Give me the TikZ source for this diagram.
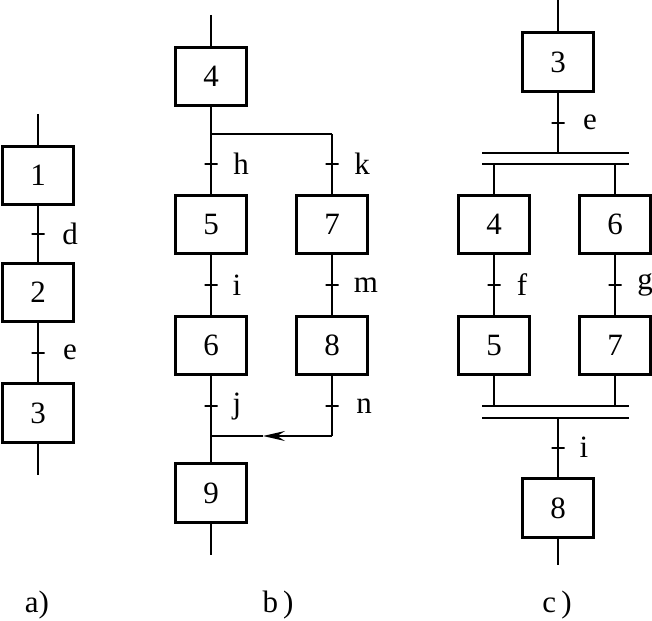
\documentclass[tikz,border=0pt]{standalone}
\usepackage{fontspec}
\setmainfont{Liberation Serif}
\usetikzlibrary{arrows.meta}
\begin{document}
\begin{tikzpicture}[x=1pt,y=-1pt,
  stepbox/.style={draw,line width=2.8pt,minimum width=71pt,minimum height=58.5pt,inner sep=0pt,font=\fontsize{31}{34}\selectfont},
  conn/.style={line width=2pt},
  tickmark/.style={draw,line width=2pt,minimum width=13pt,minimum height=0pt,inner sep=0pt,outer sep=0pt},
  cond/.style={font=\fontsize{31}{34}\selectfont,anchor=center},
  caption/.style={font=\fontsize{31}{34}\selectfont}]
\useasboundingbox (0,0) rectangle (652,620);
% ---------- a) ----------
\node[stepbox] (a1) at (38,175.5) {1};
\node[stepbox] (a2) at (38,292.5) {2};
\node[stepbox] (a3) at (38,413) {3};
\coordinate (atop) at (38,114);
\coordinate (abot) at (38,475);
\draw[conn] (atop) -- (a1);
\draw[conn] (a1) -- (a2) node[midway,tickmark] (ta1) {} node[midway,cond,xshift=32pt] (la1) {d};
\draw[conn] (a2) -- (a3) node[midway,tickmark] (ta2) {} node[midway,cond,xshift=32pt] (la2) {e};
\draw[conn] (a3) -- (abot);
\node[caption] (capa) at (37,605) {a)};
% ---------- b) ----------
\node[stepbox] (b4) at (211,76.5) {4};
\node[stepbox] (b5) at (211,224.5) {5};
\node[stepbox] (b6) at (211,345.5) {6};
\node[stepbox] (b9) at (211,493) {9};
\node[stepbox] (b7) at (332,224.5) {7};
\node[stepbox] (b8) at (332,345.5) {8};
\coordinate (btop) at (211,15);
\coordinate (bbot) at (211,555);
\coordinate (bsl) at (211,134);
\coordinate (bsr) at (332,134);
\coordinate (bml) at (211,436);
\coordinate (bmr) at (332,436);
\coordinate (barr) at (263,436);
\draw[conn] (btop) -- (b4);
\draw[conn] (b4) -- (bsl);
\draw[conn] (bsl) -- (bsr);
\draw[conn] (bsl) -- (b5) node[midway,tickmark] (tb1) {} node[midway,cond,xshift=30pt] (lb1) {h};
\draw[conn] (bsr) -- (b7) node[midway,tickmark] (tb2) {} node[midway,cond,xshift=30pt] (lb2) {k};
\draw[conn] (b5) -- (b6) node[midway,tickmark] (tb3) {} node[midway,cond,xshift=26pt] (lb3) {i};
\draw[conn] (b7) -- (b8) node[midway,tickmark] (tb4) {} node[midway,cond,xshift=34pt] (lb4) {m};
\draw[conn] (b6) -- (bml) node[midway,tickmark] (tb5) {} node[midway,cond,xshift=26pt] (lb5) {j};
\draw[conn] (b8) -- (bmr) node[midway,tickmark] (tb6) {} node[midway,cond,xshift=32pt] (lb6) {n};
\draw[conn,-{Stealth[length=22pt,width=10pt,inset=8pt]}] (bmr) -- (barr);
\draw[conn] (barr) -- (bml);
\draw[conn] (bml) -- (b9);
\draw[conn] (b9) -- (bbot);
\node[caption] (capb) at (278,605) {b\,)};
% ---------- c) ----------
\node[stepbox] (c3) at (558,62) {3};
\node[stepbox] (c4) at (494,224.5) {4};
\node[stepbox] (c6) at (615,224.5) {6};
\node[stepbox] (c5) at (494,345.5) {5};
\node[stepbox] (c7) at (615,345.5) {7};
\node[stepbox] (c8) at (558,508) {8};
\coordinate (ctop) at (558,0);
\coordinate (cbot) at (558,565);
\coordinate (cd1l) at (482,153);
\coordinate (cd1r) at (629,153);
\coordinate (cd2l) at (482,164);
\coordinate (cd2r) at (629,164);
\coordinate (cd3l) at (482,406);
\coordinate (cd3r) at (629,406);
\coordinate (cd4l) at (482,418);
\coordinate (cd4r) at (629,418);
\coordinate (cin) at (558,153);
\coordinate (cbl) at (494,164);
\coordinate (cbr) at (615,164);
\coordinate (cjl) at (494,406);
\coordinate (cjr) at (615,406);
\coordinate (cout) at (558,418);
\draw[conn] (ctop) -- (c3);
\draw[conn] (c3) -- (cin) node[midway,tickmark] (tc1) {} node[midway,cond,xshift=32pt] (lc1) {e};
\draw[conn] (cd1l) -- (cd1r);
\draw[conn] (cd2l) -- (cd2r);
\draw[conn] (cbl) -- (c4);
\draw[conn] (cbr) -- (c6);
\draw[conn] (c4) -- (c5) node[midway,tickmark] (tc2) {} node[midway,cond,xshift=28pt] (lc2) {f};
\draw[conn] (c6) -- (c7) node[midway,tickmark] (tc3) {} node[midway,cond,xshift=30pt] (lc3) {g};
\draw[conn] (c5) -- (cjl);
\draw[conn] (c7) -- (cjr);
\draw[conn] (cd3l) -- (cd3r);
\draw[conn] (cd4l) -- (cd4r);
\draw[conn] (cout) -- (c8) node[midway,tickmark] (tc4) {} node[midway,cond,xshift=26pt] (lc4) {i};
\draw[conn] (c8) -- (cbot);
\node[caption] (capc) at (557,605) {c\,)};
\end{tikzpicture}
\end{document}
